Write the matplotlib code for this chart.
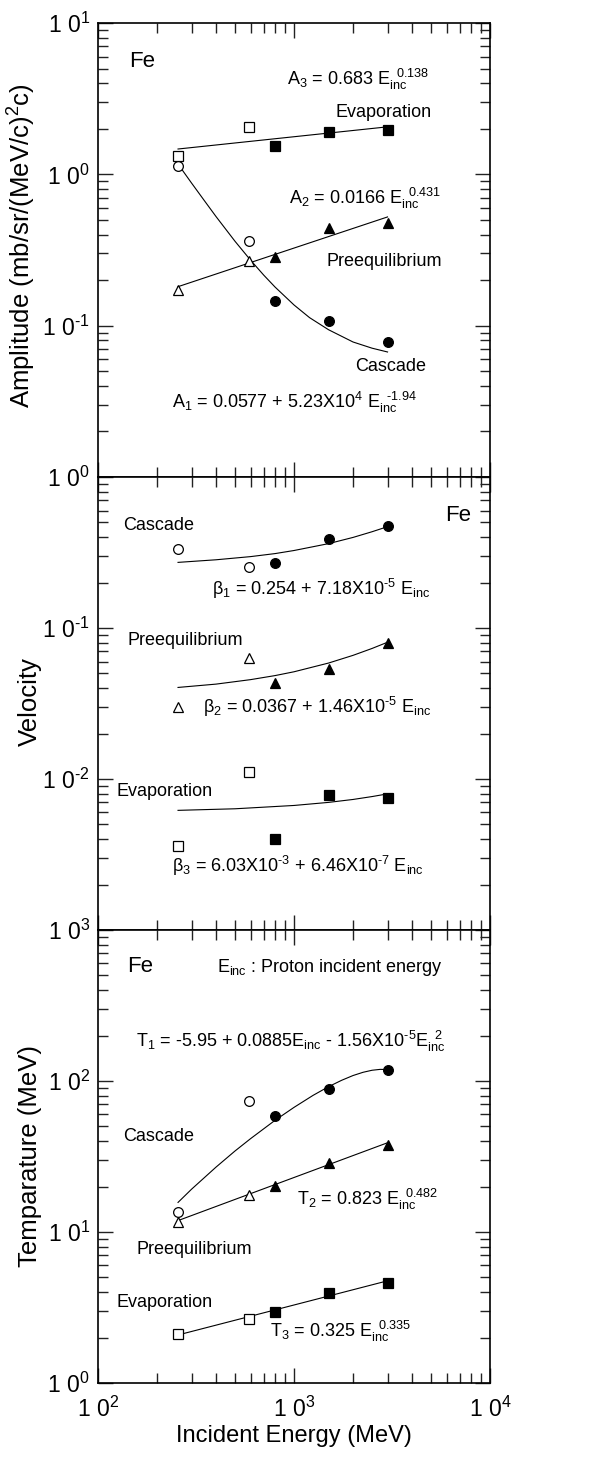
import matplotlib
matplotlib.use("Agg")
import matplotlib.pyplot as plt
from matplotlib.ticker import LogLocator, FixedLocator, NullFormatter

plt.rcParams['font.family'] = ['Liberation Sans', 'DejaVu Sans']
plt.rcParams['mathtext.fontset'] = 'custom'
plt.rcParams['mathtext.rm'] = 'Liberation Sans'
plt.rcParams['mathtext.it'] = 'Liberation Sans'
plt.rcParams['mathtext.bf'] = 'Liberation Sans:bold'

# ---------------- data ----------------
E_open = [256, 590]
E_fill = [800, 1500, 3000]

# Amplitude panel
amp_casc_open = [1.13, 0.36]
amp_casc_fill = [0.145, 0.108, 0.078]
amp_pre_open = [0.171, 0.269]
amp_pre_fill = [0.283, 0.44, 0.476]
amp_evap_open = [1.32, 2.05]
amp_evap_fill = [1.53, 1.90, 1.95]

fitA1_E = [256, 275, 300, 350, 400, 500, 600, 700, 800, 1000, 1200, 1500, 2000, 2500, 3000]
fitA1_y = [1.17, 1.026, 0.876, 0.666, 0.526, 0.361, 0.271, 0.216, 0.180, 0.137, 0.113, 0.094, 0.078, 0.071, 0.067]
fitA2_E = [256, 3000]
fitA2_y = [0.181, 0.523]
fitA3_E = [256, 3000]
fitA3_y = [1.47, 2.06]

# Velocity panel
vel_casc_open = [0.333, 0.252]
vel_casc_fill = [0.268, 0.386, 0.473]
vel_pre_open = [0.0301, 0.0636]
vel_pre_fill = [0.0434, 0.0535, 0.080]
vel_evap_open = [0.0036, 0.0112]
vel_evap_fill = [0.0040, 0.0078, 0.0075]

fitB1_E = [256, 400, 600, 800, 1000, 1500, 2000, 2500, 3000]
fitB1_y = [0.272, 0.283, 0.297, 0.311, 0.326, 0.362, 0.398, 0.434, 0.469]
fitB2_E = [256, 400, 600, 800, 1000, 1500, 2000, 2500, 3000]
fitB2_y = [0.0404, 0.0425, 0.0455, 0.0484, 0.0513, 0.0586, 0.0659, 0.0732, 0.0805]
fitB3_E = [256, 500, 1000, 1500, 2000, 2500, 3000]
fitB3_y = [0.00620, 0.00635, 0.00668, 0.00700, 0.00732, 0.00765, 0.00797]

# Temperature panel
tem_casc_open = [13.6, 74.1]
tem_casc_fill = [58.9, 88.1, 119.0]
tem_pre_open = [11.7, 17.6]
tem_pre_fill = [20.2, 28.5, 37.7]
tem_evap_open = [2.10, 2.65]
tem_evap_fill = [2.94, 3.96, 4.61]

fitT1_E = [256, 300, 400, 500, 600, 800, 1000, 1250, 1500, 1750, 2000, 2250, 2500, 2750, 3000]
fitT1_y = [15.7, 19.2, 26.9, 34.4, 41.5, 54.9, 66.9, 80.3, 91.7, 101.1, 108.7, 114.2, 117.8, 119.4, 119.1]
fitT2_E = [256, 3000]
fitT2_y = [11.9, 39.0]
fitT3_E = [256, 3000]
fitT3_y = [2.08, 4.75]

# tick labels
xtick_vals = [1e2, 1e3, 1e4]
xtick_labels = ["2", "3", "4"]
amp_ticks = [1e-2, 1e-1, 1e0, 1e1]
amp_labels = ["", "-1", "0", "1"]
vel_ticks = [1e-3, 1e-2, 1e-1, 1e0]
vel_labels = ["", "-2", "-1", "0"]
tem_ticks = [1e0, 1e1, 1e2, 1e3]
tem_labels = ["0", "1", "2", "3"]

# ---------------- figure ----------------
fig = plt.figure(figsize=(6.05, 14.61), dpi=100)
L, W = 0.162, 0.648
ax1 = fig.add_axes([L, 0.67351, W, 0.31075])
ax2 = fig.add_axes([L, 0.36345, W, 0.31006])
ax3 = fig.add_axes([L, 0.05339, W, 0.31006])

MS_SQ, MS_CI, MS_TR = 7.5, 7, 7.5
LW_FIT = 0.8
FS_ANN = 13
FS_TICK = 16.5
FS_YLAB = 18.5
HY = r"\text{-}"


def explabel(e):
    if e == "":
        return ""
    e = e.replace("-", HY)
    return r"$\mathregular{1\ 0^{%s}}$" % e


def style(ax, yt, ylabels, ylim, show_x):
    ax.set_xscale('log')
    ax.set_yscale('log')
    ax.set_xlim(100, 1e4)
    ax.set_ylim(*ylim)
    ax.tick_params(which='both', direction='in', top=True, right=True, width=1.0, color='#222222')
    ax.tick_params(which='major', length=11)
    ax.tick_params(which='minor', length=7.5)
    ax.tick_params(axis='y', which='major', pad=6)
    ax.yaxis.set_major_locator(FixedLocator(yt))
    ax.set_yticklabels([explabel(s) for s in ylabels], fontsize=FS_TICK)
    ax.yaxis.set_minor_locator(LogLocator(base=10, subs=range(2, 10)))
    ax.yaxis.set_minor_formatter(NullFormatter())
    ax.xaxis.set_major_locator(FixedLocator(xtick_vals))
    ax.xaxis.set_minor_locator(LogLocator(base=10, subs=range(2, 10)))
    ax.xaxis.set_minor_formatter(NullFormatter())
    if show_x:
        ax.set_xticklabels([explabel(s) for s in xtick_labels], fontsize=FS_TICK)
        ax.tick_params(axis='x', which='major', pad=10)
    else:
        ax.set_xticklabels([])
    for s in ax.spines.values():
        s.set_linewidth(1.2)


def plot_series(ax, open_y, fill_y, marker, ms):
    ax.plot(E_open, open_y, linestyle='none', marker=marker, ms=ms,
            mfc='white', mec='black', mew=0.9, zorder=4)
    ax.plot(E_fill, fill_y, linestyle='none', marker=marker, ms=ms,
            mfc='black', mec='black', mew=0.9, zorder=4)


# ---- Amplitude ----
style(ax1, amp_ticks, amp_labels, (1e-2, 1e1), False)
ax1.plot(fitA1_E, fitA1_y, color='black', lw=LW_FIT)
ax1.plot(fitA2_E, fitA2_y, color='black', lw=LW_FIT)
ax1.plot(fitA3_E, fitA3_y, color='black', lw=LW_FIT)
plot_series(ax1, amp_evap_open, amp_evap_fill, 's', MS_SQ)
plot_series(ax1, amp_casc_open, amp_casc_fill, 'o', MS_CI)
plot_series(ax1, amp_pre_open, amp_pre_fill, '^', MS_TR)
ax1.set_ylabel(r"Amplitude (mb/sr/(MeV/c)$^{2}$c)", fontsize=FS_YLAB)
ax1.yaxis.set_label_coords(-0.153, 0.51)
t = ax1.transAxes
ax1.text(0.079, 0.916, "Fe", transform=t, fontsize=16, va='center')
ax1.text(0.482, 0.863, r"A$_{3}$ = 0.683 E$_{\mathrm{inc}}^{\ \ 0.138}$", transform=t, fontsize=FS_ANN, va='baseline')
ax1.text(0.607, 0.802, "Evaporation", transform=t, fontsize=FS_ANN, va='center')
ax1.text(0.488, 0.601, r"A$_{2}$ = 0.0166 E$_{\mathrm{inc}}^{\ \ 0.431}$", transform=t, fontsize=FS_ANN, va='baseline')
ax1.text(0.582, 0.474, "Preequilibrium", transform=t, fontsize=FS_ANN, va='center')
ax1.text(0.656, 0.244, "Cascade", transform=t, fontsize=FS_ANN, va='center')
ax1.text(0.188, 0.152, r"A$_{1}$ = 0.0577 + 5.23X10$^{4}$ E$_{\mathrm{inc}}^{\ \ \text{-}1.94}$", transform=t, fontsize=FS_ANN, va='baseline')

# ---- Velocity ----
style(ax2, vel_ticks, vel_labels, (1e-3, 1e0), False)
ax2.plot(fitB1_E, fitB1_y, color='black', lw=LW_FIT)
ax2.plot(fitB2_E, fitB2_y, color='black', lw=LW_FIT)
ax2.plot(fitB3_E, fitB3_y, color='black', lw=LW_FIT)
plot_series(ax2, vel_evap_open, vel_evap_fill, 's', MS_SQ)
plot_series(ax2, vel_casc_open, vel_casc_fill, 'o', MS_CI)
plot_series(ax2, vel_pre_open, vel_pre_fill, '^', MS_TR)
ax2.set_ylabel("Velocity", fontsize=FS_YLAB)
ax2.yaxis.set_label_coords(-0.143, 0.505)
t = ax2.transAxes
ax2.text(0.885, 0.914, "Fe", transform=t, fontsize=16, va='center')
ax2.text(0.064, 0.894, "Cascade", transform=t, fontsize=FS_ANN, va='center')
ax2.text(0.29, 0.74, r"β$_{1}$ = 0.254 + 7.18X10$^{\text{-} 5}$ E$_{\mathrm{inc}}$", transform=t, fontsize=FS_ANN, va='baseline')
ax2.text(0.076, 0.639, "Preequilibrium", transform=t, fontsize=FS_ANN, va='center')
ax2.text(0.268, 0.479, r"β$_{2}$ = 0.0367 + 1.46X10$^{\text{-} 5}$ E$_{\mathrm{inc}}$", transform=t, fontsize=FS_ANN, va='baseline')
ax2.text(0.048, 0.305, "Evaporation", transform=t, fontsize=FS_ANN, va='center')
ax2.text(0.188, 0.129, r"β$_{3}$ = 6.03X10$^{\text{-} 3}$ + 6.46X10$^{\text{-} 7}$ E$_{\mathrm{inc}}$", transform=t, fontsize=FS_ANN, va='baseline')

# ---- Temperature ----
style(ax3, tem_ticks, tem_labels, (1e0, 1e3), True)
ax3.plot(fitT1_E, fitT1_y, color='black', lw=LW_FIT)
ax3.plot(fitT2_E, fitT2_y, color='black', lw=LW_FIT)
ax3.plot(fitT3_E, fitT3_y, color='black', lw=LW_FIT)
plot_series(ax3, tem_evap_open, tem_evap_fill, 's', MS_SQ)
plot_series(ax3, tem_casc_open, tem_casc_fill, 'o', MS_CI)
plot_series(ax3, tem_pre_open, tem_pre_fill, '^', MS_TR)
ax3.set_ylabel("Temparature (MeV)", fontsize=FS_YLAB)
ax3.yaxis.set_label_coords(-0.143, 0.5)
ax3.set_xlabel("Incident Energy (MeV)", fontsize=17, labelpad=2)
t = ax3.transAxes
ax3.text(0.074, 0.919, "Fe", transform=t, fontsize=16, va='center')
ax3.text(0.303, 0.908, r"E$_{\mathrm{inc}}$ : Proton incident energy", transform=t, fontsize=FS_ANN, va='baseline')
ax3.text(0.097, 0.742, r"T$_{1}$ = -5.95 + 0.0885E$_{\mathrm{inc}}$ - 1.56X10$^{\text{-} 5}$E$_{\mathrm{inc}}^{\ \ 2}$", transform=t, fontsize=FS_ANN, va='baseline')
ax3.text(0.064, 0.544, "Cascade", transform=t, fontsize=FS_ANN, va='center')
ax3.text(0.507, 0.393, r"T$_{2}$ = 0.823 E$_{\mathrm{inc}}^{\ \ 0.482}$", transform=t, fontsize=FS_ANN, va='baseline')
ax3.text(0.099, 0.295, "Preequilibrium", transform=t, fontsize=FS_ANN, va='center')
ax3.text(0.048, 0.178, "Evaporation", transform=t, fontsize=FS_ANN, va='center')
ax3.text(0.439, 0.102, r"T$_{3}$ = 0.325 E$_{\mathrm{inc}}^{\ \ 0.335}$", transform=t, fontsize=FS_ANN, va='baseline')

fig.savefig("out.png", dpi=100)
